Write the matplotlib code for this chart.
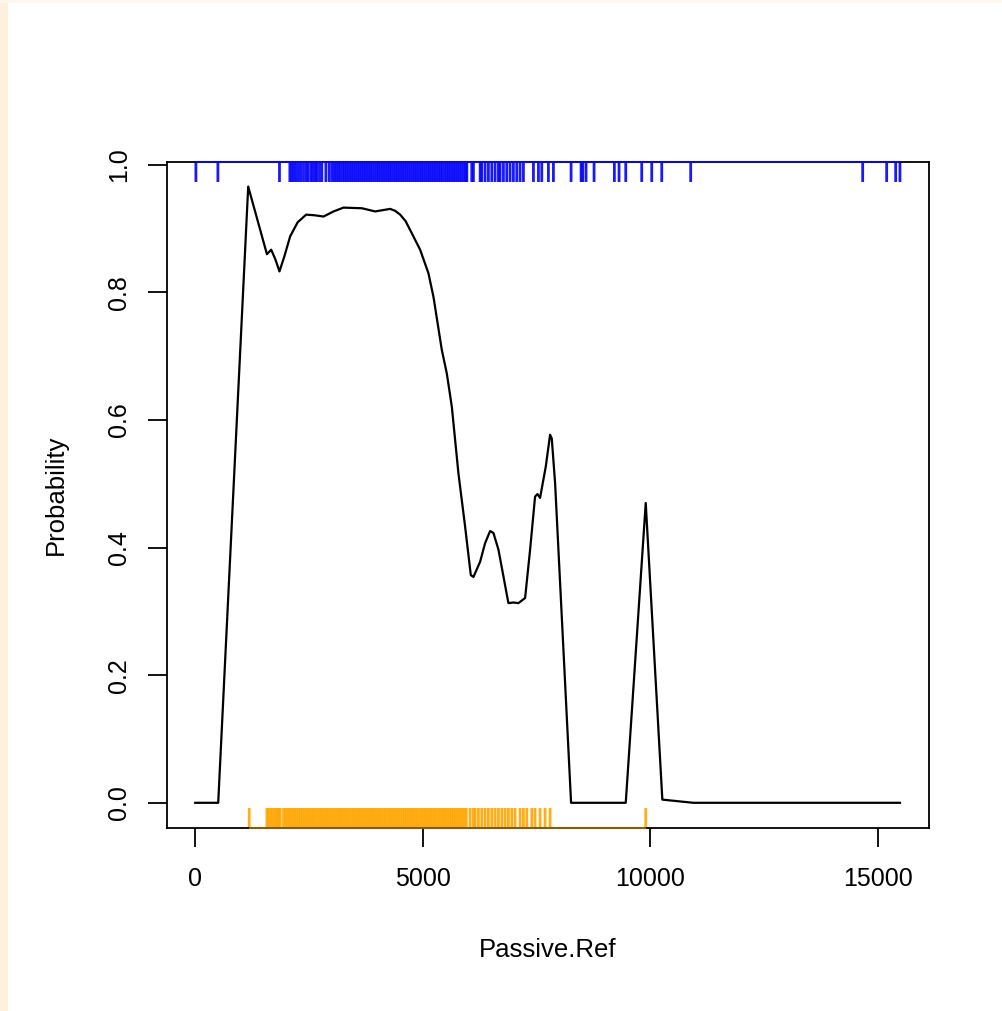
import matplotlib
matplotlib.use("Agg")
import matplotlib.pyplot as plt
import numpy as np
from matplotlib.patches import Rectangle

plt.rcParams['font.family'] = ['Liberation Sans', 'DejaVu Sans']

# Fitted probability curve (Passive.Ref vs Probability)
curve_x = [0, 505, 1164, 1575, 1669, 1760, 1851, 1960, 2086, 2250, 2438, 2620,
           2818, 3038, 3257, 3661, 3953, 4282, 4392, 4502, 4620, 4721, 4941,
           5124, 5234, 5417, 5527, 5637, 5783, 5929, 6054, 6112, 6259, 6368,
           6478, 6551, 6661, 6771, 6880, 6990, 7100, 7247, 7357, 7466, 7518,
           7576, 7701, 7796, 7833, 7906, 8089, 8257, 9458, 9897, 10262, 10943,
           15482]
curve_y = [0, 0, 0.966, 0.860, 0.867, 0.852, 0.833, 0.857, 0.888, 0.910, 0.922,
           0.921, 0.919, 0.927, 0.933, 0.932, 0.927, 0.931, 0.928, 0.922, 0.912,
           0.898, 0.867, 0.830, 0.793, 0.710, 0.673, 0.621, 0.516, 0.433, 0.357,
           0.354, 0.378, 0.407, 0.426, 0.423, 0.397, 0.355, 0.313, 0.314, 0.313,
           0.321, 0.397, 0.480, 0.484, 0.478, 0.527, 0.577, 0.571, 0.501, 0.240,
           0, 0, 0.470, 0.005, 0, 0]

# Rug: observations with outcome 1 (top, blue)
rug_top = [15, 498, 1851, 2079, 2123, 2167, 2218, 2269, 2321, 2379, 2438, 2481,
           2540, 2584, 2635, 2672, 2730, 2782, 2870, 2943, 3001,
           3052, 3098, 3145, 3190, 3238, 3285, 3330, 3378, 3425, 3470, 3518,
           3565, 3610, 3658, 3705, 3750, 3798, 3845, 3890, 3938, 3985, 4030,
           4078, 4125, 4170, 4218, 4265, 4310, 4358, 4405, 4450, 4498, 4545,
           4590, 4638, 4685, 4730, 4778, 4825, 4870, 4918, 4965, 5010, 5058,
           5105, 5150, 5198, 5245, 5290, 5338, 5385, 5430, 5478, 5525, 5570,
           5618, 5665, 5710, 5758, 5805, 5850, 5898, 5945, 5967,
           6075, 6112, 6259, 6295, 6368, 6441, 6515, 6588, 6661, 6698, 6771,
           6844, 6917, 6990, 7064, 7137, 7210, 7430, 7540, 7613, 7759, 7869,
           8257, 8477, 8514, 8586, 8762, 9208, 9311, 9458, 9809, 10029, 10249,
           10885, 14663, 15190, 15388, 15482]

# Rug: observations with outcome 0 (bottom, orange)
rug_bottom = [1186, 1575, 1610, 1662, 1706, 1757, 1794, 1830, 1867,
              1940, 1988, 2035, 2080, 2128, 2175, 2220, 2268, 2315, 2360, 2408,
              2455, 2500, 2548, 2595, 2640, 2688, 2735, 2780, 2828, 2875, 2920,
              2968, 3015, 3060, 3108, 3155, 3200, 3248, 3295, 3340, 3388, 3435,
              3480, 3528, 3575, 3620, 3668, 3715, 3760, 3808, 3855, 3900, 3948,
              3995, 4040, 4088, 4135, 4180, 4228, 4275, 4320, 4368, 4415, 4460,
              4508, 4555, 4600, 4648, 4695, 4740, 4788, 4835, 4880, 4928, 4975,
              5020, 5068, 5115, 5160, 5208, 5255, 5300, 5348, 5395, 5440, 5488,
              5535, 5580, 5628, 5675, 5720, 5768, 5815, 5860, 5908, 5955,
              6039, 6112, 6149, 6222, 6295, 6368, 6441, 6515, 6588, 6661, 6735,
              6808, 6880, 6954, 7027, 7137, 7210, 7284, 7394, 7466, 7576, 7686,
              7796, 9897]

x_ticks = [0, 5000, 10000, 15000]
y_ticks = [0.0, 0.2, 0.4, 0.6, 0.8, 1.0]
y_tick_labels = ["0.0", "0.2", "0.4", "0.6", "0.8", "1.0"]

W, H = 1002, 1011
fig = plt.figure(figsize=(W / 100, H / 100), dpi=100)
fig.patch.set_facecolor('white')
# page-like peach border on left and top
fig.patches.append(Rectangle((0, 0), 8 / W, 1, transform=fig.transFigure,
                             facecolor='#FEF0DC', edgecolor='none', zorder=0))
fig.patches.append(Rectangle((0, 1 - 3 / H), 1, 3 / H, transform=fig.transFigure,
                             facecolor='#FEF6EC', edgecolor='none', zorder=0))

left, right, top, bottom = 167, 929, 162, 828
ax = fig.add_axes([left / W, (H - bottom) / H, (right - left) / W, (bottom - top) / H])

ax.plot(curve_x, curve_y, color='black', lw=1.6, solid_joinstyle='round')

ax.set_xlim(-620, 16120)
ax.set_ylim(-0.0395, 1.0045)

trans_top = ax.get_xaxis_transform()
rug_len = 0.03
vt = ax.vlines(rug_top, 1 - rug_len, 1, transform=trans_top, color='blue',
               alpha=0.9, lw=2.0, clip_on=False)
vt.set_snap(False)
ax.hlines(1, min(rug_top), max(rug_top), transform=trans_top, color='#1010A8',
          lw=1.5, clip_on=False, zorder=5)
vb = ax.vlines(rug_bottom, 0, rug_len, transform=trans_top, color='orange',
               alpha=0.9, lw=2.0, clip_on=False)
vb.set_snap(False)
ax.hlines(0, min(rug_bottom), max(rug_bottom), transform=trans_top,
          color='#8A5C00', lw=1.5, clip_on=False, zorder=5)

ax.set_xticks(x_ticks)
ax.set_xticklabels([str(t) for t in x_ticks])
ax.set_yticks(y_ticks)
ax.set_yticklabels(y_tick_labels, rotation=90, va='center')
ax.tick_params(axis='both', direction='out', length=14, width=1.3,
               labelsize=18, color='black')
ax.tick_params(axis='x', pad=14)
ax.tick_params(axis='y', pad=12)
for s in ax.spines.values():
    s.set_linewidth(1.3)

ax.set_xlabel('Passive.Ref', fontsize=18.5, labelpad=34)
ax.set_ylabel('Probability', fontsize=18.5, labelpad=28)

fig.savefig('out.png', dpi=100)
